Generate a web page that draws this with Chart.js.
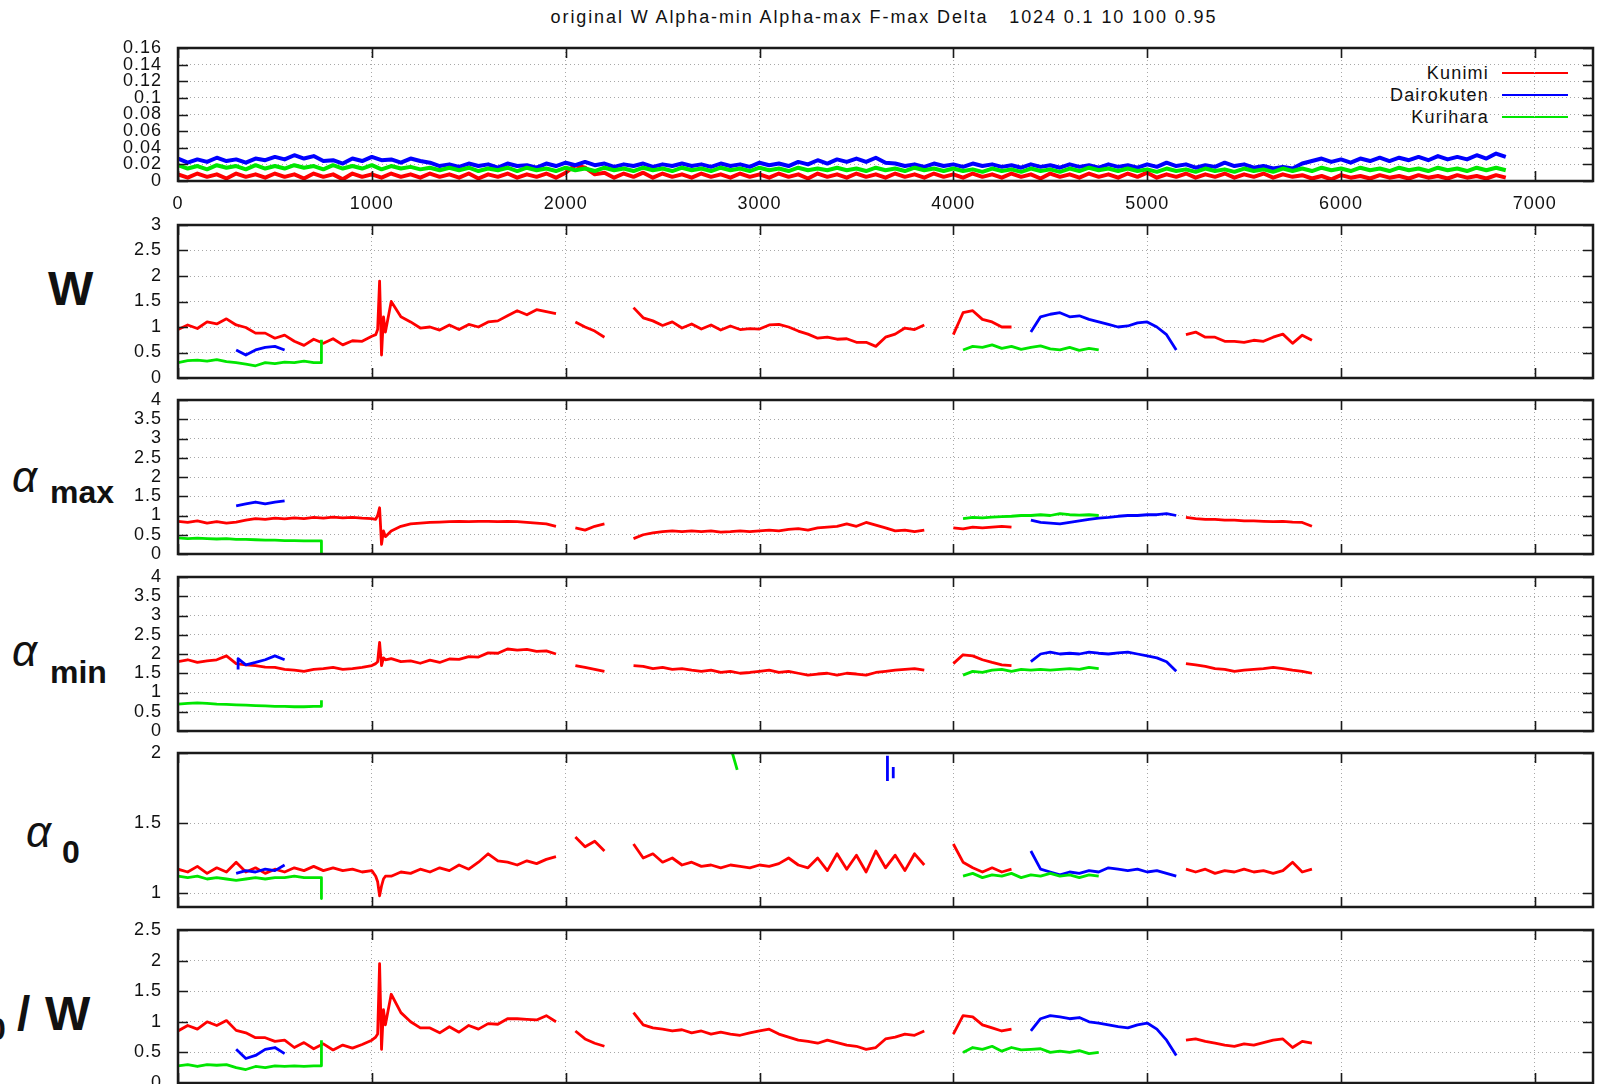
<!doctype html>
<html lang="en">
<head>
<meta charset="utf-8">
<title>W / alpha</title>
<script src="https://cdn.jsdelivr.net/npm/chart.js@4.4.1/dist/chart.umd.min.js"></script>
<style>
  body { margin: 0; background: #fff; width: 1601px; height: 1084px; overflow: hidden; position: relative;
         font-family: "Liberation Sans", Arial, sans-serif; color: #111; }
  canvas { position: absolute; left: 0; }
  .title { position: absolute; left: 0; top: 8px; width: 1768px; text-align: center; white-space: pre;
           font-size: 18px; line-height: 18px; letter-spacing: 1.9px; }
  .legend { position: absolute; left: 1300px; width: 268px; height: 20px; display: flex;
            justify-content: flex-end; align-items: center; font-size: 18px; letter-spacing: 1.2px; }
  .legend i { display: inline-block; width: 66px; height: 2px; margin-left: 13px; }
  .g { position: absolute; font-style: italic; font-size: 44px; line-height: 44px; }
  .s { position: absolute; font-weight: bold; font-size: 32px; line-height: 32px; }
  .b { position: absolute; font-weight: bold; font-size: 48px; line-height: 48px; }
</style>
</head>
<body>
<div class="title">original W Alpha-min Alpha-max F-max Delta   1024 0.1 10 100 0.95</div>

<span class="b" style="left:48px; top:265px">W</span>
<span class="g" style="left:12px; top:455px">α</span><span class="s" style="left:50px; top:476px">max</span>
<span class="g" style="left:12px; top:629px">α</span><span class="s" style="left:50px; top:656px">min</span>
<span class="g" style="left:26px; top:810px">α</span><span class="s" style="left:62px; top:836px">0</span>
<span class="g" style="left:-50px; top:994px">α</span><span class="s" style="left:-12px; top:1013px">0</span>
<span class="b" style="left:17px; top:990px">/</span><span class="b" style="left:45px; top:990px">W</span>

<div id="legend"></div>

<script>
// every series is a list of segments [startX, values, dx]; null breaks the line
const STEP = 50;
const X_MAX = 7300;
const seriesNames = ['Kunimi', 'Dairokuten', 'Kurihara'];
const seriesColors = ['#ff0000', '#0000ff', '#00e600'];

const xTicks = [0, 1000, 2000, 3000, 4000, 5000, 6000, 7000];
const topTicks = [0, 0.02, 0.04, 0.06, 0.08, 0.1, 0.12, 0.14, 0.16];
const wTicks = [0, 0.5, 1, 1.5, 2, 2.5, 3];
const alphaTicks = [0, 0.5, 1, 1.5, 2, 2.5, 3, 3.5, 4];
const a0Ticks = [1, 1.5, 2];
const ratioTicks = [0, 0.5, 1, 1.5, 2, 2.5];

// original (0 .. 6850)
const topKunimi = [[0, [
  0.008,0.004,0.009,0.005,0.008,0.003,0.009,0.005,0.008,0.004,0.009,0.005,0.008,0.003,
  0.009,0.005,0.008,0.002,0.009,0.005,0.008,0.004,0.009,0.005,0.008,0.004,0.009,0.005,
  0.008,0.004,0.009,0.003,0.008,0.005,0.009,0.004,0.008,0.005,0.009,0.004,0.010,0.019,
  0.016,0.008,0.010,0.004,0.009,0.005,0.010,0.004,0.009,0.005,0.008,0.004,0.009,0.005,
  0.008,0.004,0.009,0.005,0.008,0.004,0.009,0.005,0.008,0.003,0.009,0.005,0.008,0.004,
  0.009,0.005,0.008,0.004,0.009,0.005,0.008,0.004,0.009,0.005,0.008,0.004,0.009,0.005,
  0.008,0.004,0.009,0.005,0.008,0.003,0.009,0.005,0.008,0.004,0.009,0.005,0.008,0.004,
  0.009,0.005,0.010,0.004,0.008,0.005,0.009,0.004,0.008,0.005,0.009,0.004,0.008,0.005,
  0.009,0.004,0.008,0.005,0.007,0.003,0.006,0.002,0.007,0.004,0.006,0.003,0.007,0.004,
  0.006,0.003,0.007,0.004,0.006,0.003,0.007,0.004,0.006,0.003,0.007,0.004]]];
const topDairokuten = [[0, [
  0.027,0.022,0.026,0.023,0.028,0.024,0.026,0.022,0.027,0.025,0.029,0.026,0.031,0.027,
  0.030,0.024,0.025,0.021,0.027,0.024,0.029,0.025,0.026,0.022,0.027,0.024,0.022,0.018,
  0.020,0.017,0.021,0.018,0.020,0.016,0.021,0.018,0.019,0.016,0.021,0.018,0.022,0.019,
  0.023,0.019,0.021,0.017,0.020,0.018,0.021,0.017,0.020,0.018,0.021,0.018,0.020,0.017,
  0.021,0.018,0.020,0.017,0.022,0.019,0.021,0.018,0.023,0.020,0.025,0.021,0.026,0.023,
  0.027,0.023,0.028,0.022,0.021,0.018,0.020,0.017,0.021,0.018,0.020,0.017,0.021,0.018,
  0.020,0.017,0.019,0.016,0.020,0.017,0.019,0.016,0.020,0.017,0.019,0.016,0.020,0.017,
  0.019,0.016,0.020,0.017,0.022,0.018,0.020,0.016,0.019,0.017,0.022,0.018,0.020,0.016,
  0.018,0.015,0.017,0.015,0.021,0.024,0.027,0.023,0.026,0.022,0.027,0.024,0.028,0.024,
  0.028,0.025,0.029,0.025,0.030,0.026,0.029,0.026,0.031,0.027,0.033,0.029]]];
const topKurihara = [[0, [
  0.019,0.015,0.018,0.014,0.019,0.016,0.018,0.014,0.019,0.015,0.018,0.015,0.019,0.016,
  0.018,0.014,0.019,0.015,0.018,0.015,0.019,0.014,0.018,0.015,0.017,0.014,0.016,0.013,
  0.016,0.013,0.016,0.012,0.015,0.013,0.016,0.012,0.016,0.013,0.015,0.012,0.016,0.013,
  0.015,0.012,0.016,0.013,0.015,0.012,0.016,0.013,0.015,0.012,0.016,0.013,0.015,0.012,
  0.016,0.013,0.015,0.012,0.016,0.013,0.015,0.012,0.016,0.013,0.015,0.013,0.016,0.013,
  0.015,0.012,0.016,0.013,0.015,0.012,0.016,0.013,0.015,0.012,0.015,0.012,0.014,0.011,
  0.015,0.012,0.014,0.011,0.015,0.012,0.014,0.011,0.015,0.012,0.016,0.013,0.015,0.012,
  0.015,0.012,0.014,0.011,0.015,0.012,0.014,0.011,0.015,0.012,0.014,0.011,0.015,0.012,
  0.014,0.011,0.015,0.012,0.015,0.012,0.016,0.013,0.015,0.012,0.016,0.013,0.015,0.012,
  0.016,0.013,0.015,0.012,0.016,0.013,0.015,0.012,0.016,0.013,0.016,0.013]]];

// W
const wKunimi = [
  [0, [0.95,1.04,0.97,1.1,1.06,1.16,1.04,0.99,0.88,0.88,0.78,0.84,0.72,0.64,0.76,0.68,0.77,0.65,0.73,0.72,0.82]],
  [1020, [0.85,0.95,1.9,0.45,1.2,0.9], 10],
  [1100, [1.5,1.2,1.1,0.98,1.0,0.94,1.04,0.95,1.05,1.0,1.1,1.12,1.22,1.32,1.24,1.34,1.3,1.26]],
  null, [2050, [1.1,1.0,0.92,0.8]], null,
  [2350, [1.38,1.18,1.12,1.03,1.1,0.98,1.06,0.96,1.04,0.94,1.02,0.95,0.97,0.96,1.04,1.05,1.0,0.92]],
  [3250, [0.86,0.78,0.8,0.76,0.77,0.7,0.7,0.62,0.8,0.86,0.98,0.95,1.04]],
  null, [4000, [0.85,1.28,1.32,1.15,1.1,1.0,1.0]], null,
  [5200, [0.85,0.9,0.8,0.8,0.72,0.72,0.7,0.74,0.72,0.8,0.86,0.68,0.84,0.74]]
];
const wDairokuten = [
  [300, [0.55,0.45,0.55,0.6,0.62,0.55]], null,
  [4400, [0.9,1.2,1.25,1.28,1.2,1.22,1.15,1.1,1.05,1.0,1.02,1.08,1.1,1.0,0.85,0.55]]
];
const wKurihara = [
  [0, [0.3,0.34,0.35,0.33,0.36,0.32,0.3,0.27,0.24,0.3,0.28,0.31,0.3,0.33,0.3]],
  [740, [0.3,0.75], 0], null,
  [4050, [0.55,0.62,0.6,0.65,0.58,0.62,0.56,0.6,0.63,0.57,0.55,0.6,0.54,0.58,0.55]]
];

// alpha max
const amaxKunimi = [
  [0, [0.85,0.82,0.86,0.8,0.84,0.8,0.83,0.88,0.92,0.9,0.93,0.91,0.94,0.92,0.95,0.93,0.96,0.94,0.95,0.93,0.92]],
  [1020, [0.9,1.0,1.2,0.25,0.6,0.45], 10],
  [1100, [0.6,0.72,0.78,0.8,0.82,0.83,0.84,0.85,0.84,0.85,0.85,0.84,0.85,0.84,0.82,0.8,0.78,0.72]],
  null, [2050, [0.68,0.62,0.72,0.78]], null,
  [2350, [0.4,0.5,0.55,0.58,0.6,0.58,0.6,0.58,0.6,0.57,0.58,0.6,0.58,0.6,0.62,0.6,0.64,0.66]],
  [3250, [0.62,0.68,0.7,0.72,0.78,0.72,0.82,0.75,0.68,0.6,0.62,0.58,0.62]],
  null, [4000, [0.68,0.65,0.7,0.68,0.7,0.72,0.7]], null,
  [5200, [0.95,0.92,0.9,0.9,0.88,0.88,0.86,0.86,0.85,0.84,0.85,0.83,0.82,0.72]]
];
const amaxDairokuten = [
  [300, [1.25,1.3,1.35,1.3,1.35,1.38]], null,
  [4400, [0.88,0.82,0.8,0.78,0.82,0.86,0.9,0.93,0.95,0.98,1.0,1.0,1.02,1.02,1.05,1.0]]
];
const amaxKurihara = [
  [0, [0.42,0.4,0.41,0.4,0.39,0.4,0.38,0.38,0.37,0.36,0.36,0.35,0.35,0.34,0.34]],
  [740, [0.34,0.0], 0], null,
  [4050, [0.92,0.95,0.94,0.96,0.97,0.98,1.0,1.0,1.02,1.0,1.05,1.02,1.01,1.02,1.0]]
];

// alpha min
const aminKunimi = [
  [0, [1.8,1.85,1.78,1.82,1.85,1.95,1.75,1.72,1.7,1.66,1.65,1.6,1.58,1.55,1.6,1.62,1.65,1.6,1.62,1.65,1.7]],
  [1020, [1.75,1.8,2.3,1.7,1.9,1.85], 10],
  [1100, [1.88,1.8,1.82,1.76,1.84,1.78,1.87,1.86,1.93,1.92,2.03,2.02,2.13,2.1,2.12,2.07,2.08,2.0]],
  null, [2050, [1.7,1.65,1.6,1.55]], null,
  [2350, [1.7,1.68,1.62,1.65,1.6,1.62,1.58,1.55,1.58,1.52,1.55,1.5,1.52,1.55,1.58,1.52,1.55,1.5]],
  [3250, [1.45,1.48,1.5,1.45,1.5,1.48,1.45,1.52,1.55,1.58,1.6,1.62,1.58]],
  null, [4000, [1.75,1.98,1.95,1.85,1.78,1.72,1.7]], null,
  [5200, [1.75,1.72,1.68,1.62,1.6,1.55,1.58,1.6,1.62,1.65,1.62,1.58,1.55,1.5]]
];
const aminDairokuten = [
  [310, [1.6,1.88], 0],
  [350, [1.72,1.78,1.85,1.95,1.85]], null,
  [4400, [1.8,2.0,2.05,2.0,2.02,2.0,2.05,2.02,2.0,2.03,2.05,2.0,1.95,1.9,1.8,1.55]]
];
const aminKurihara = [
  [0, [0.7,0.72,0.73,0.72,0.7,0.69,0.68,0.67,0.66,0.65,0.64,0.64,0.63,0.63,0.64]],
  [740, [0.64,0.8], 0], null,
  [4050, [1.45,1.55,1.52,1.58,1.6,1.55,1.6,1.58,1.6,1.58,1.6,1.62,1.6,1.65,1.62]]
];

// alpha 0
const a0Kunimi = [
  [0, [1.17,1.15,1.19,1.14,1.18,1.15,1.22,1.15,1.18,1.14,1.17,1.15,1.18,1.16,1.19,1.16,1.18,1.16,1.17,1.15,1.16]],
  [1020, [1.12,1.08,0.98,1.05,1.1,1.12], 10],
  [1100, [1.12,1.15,1.14,1.17,1.15,1.18,1.16,1.2,1.17,1.22,1.28,1.23,1.22,1.2,1.23,1.21,1.24,1.26]],
  null, [2050, [1.4,1.33,1.37,1.3]], null,
  [2350, [1.35,1.25,1.28,1.22,1.25,1.2,1.22,1.19,1.2,1.18,1.2,1.19,1.18,1.2,1.19,1.21,1.25,1.2]],
  [3250, [1.18,1.25,1.16,1.28,1.17,1.27,1.15,1.3,1.18,1.27,1.16,1.28,1.2]],
  null, [4000, [1.35,1.22,1.18,1.15,1.18,1.15,1.17]], null,
  [5200, [1.17,1.15,1.17,1.14,1.16,1.15,1.17,1.15,1.16,1.14,1.16,1.22,1.15,1.17]]
];
const a0Dairokuten = [
  [300, [1.14,1.16,1.15,1.17,1.16,1.2]], null,
  [3660, [1.8,1.98], 0], null,
  [3690, [1.82,1.9], 0], null,
  [4400, [1.3,1.17,1.15,1.13,1.15,1.14,1.16,1.15,1.18,1.17,1.16,1.17,1.15,1.16,1.14,1.12]]
];
const a0Kurihara = [
  [0, [1.12,1.11,1.12,1.1,1.11,1.1,1.09,1.1,1.11,1.1,1.11,1.11,1.12,1.11,1.11]],
  [740, [1.11,0.96], 0], null,
  [2860, [2.0,1.88], 25], null,
  [4050, [1.12,1.14,1.11,1.13,1.12,1.14,1.11,1.13,1.12,1.14,1.12,1.13,1.11,1.13,1.12]]
];

// alpha 0 / W
const ratioKunimi = [
  [0, [0.85,0.94,0.88,1.0,0.94,1.02,0.86,0.82,0.74,0.74,0.68,0.7,0.58,0.66,0.56,0.64,0.54,0.62,0.57,0.63,0.7]],
  [1020, [0.75,0.8,1.95,0.55,1.2,0.95], 10],
  [1100, [1.45,1.15,1.0,0.9,0.9,0.82,0.92,0.83,0.94,0.88,0.97,0.96,1.05,1.05,1.04,1.03,1.1,1.0]],
  null, [2050, [0.85,0.72,0.65,0.6]], null,
  [2350, [1.15,0.95,0.9,0.88,0.85,0.87,0.82,0.85,0.8,0.83,0.8,0.78,0.82,0.85,0.88,0.8,0.75,0.7]],
  [3250, [0.68,0.65,0.7,0.66,0.62,0.6,0.55,0.58,0.72,0.75,0.8,0.78,0.85]],
  null, [4000, [0.8,1.1,1.08,0.95,0.9,0.85,0.88]], null,
  [5200, [0.7,0.72,0.68,0.65,0.62,0.6,0.64,0.62,0.66,0.7,0.72,0.58,0.68,0.65]]
];
const ratioDairokuten = [
  [300, [0.55,0.4,0.45,0.55,0.58,0.48]], null,
  [4400, [0.85,1.05,1.1,1.08,1.05,1.07,1.0,0.98,0.95,0.92,0.9,0.95,0.98,0.88,0.7,0.45]]
];
const ratioKurihara = [
  [0, [0.28,0.3,0.27,0.3,0.29,0.3,0.25,0.22,0.27,0.25,0.28,0.27,0.28,0.27,0.28]],
  [740, [0.28,0.7], 0], null,
  [4050, [0.5,0.58,0.55,0.6,0.52,0.58,0.54,0.55,0.56,0.5,0.52,0.5,0.53,0.48,0.5]]
];

const panels = [
  { top: 48,  bottom: 181,  min: 0,   max: 0.16, ticks: topTicks,   series: [topKunimi, topDairokuten, topKurihara], xLabels: true, lw: 4 },
  { top: 225, bottom: 378,  min: 0,   max: 3,    ticks: wTicks,     series: [wKunimi, wDairokuten, wKurihara] },
  { top: 400, bottom: 554,  min: 0,   max: 4,    ticks: alphaTicks, series: [amaxKunimi, amaxDairokuten, amaxKurihara] },
  { top: 577, bottom: 731,  min: 0,   max: 4,    ticks: alphaTicks, series: [aminKunimi, aminDairokuten, aminKurihara] },
  { top: 753, bottom: 907,  min: 0.9, max: 2,    ticks: a0Ticks,    series: [a0Kunimi, a0Dairokuten, a0Kurihara] },
  { top: 930, bottom: 1083, min: 0,   max: 2.5,  ticks: ratioTicks, series: [ratioKunimi, ratioDairokuten, ratioKurihara] }
];

function toPoints(series) {
  const pts = [];
  series.forEach(seg => {
    if (seg === null) {
      pts.push({ x: pts.length ? pts[pts.length - 1].x : 0, y: null });
      return;
    }
    const [x0, vals, dx = STEP] = seg;
    vals.forEach((v, i) => pts.push({ x: x0 + i * dx, y: v }));
  });
  return pts;
}

// gnuplot style box with inward tics
const framePlugin = {
  id: 'frame',
  beforeDraw(chart) { chart.ctx.letterSpacing = '1px'; },
  afterDraw(chart) {
    const { ctx, chartArea: a, scales: { x, y } } = chart;
    ctx.save();
    ctx.strokeStyle = '#1a1a1a';
    ctx.lineWidth = 1.6;
    ctx.beginPath();
    y.ticks.forEach(t => {
      const py = Math.round(y.getPixelForValue(t.value)) + 0.5;
      ctx.moveTo(a.left, py); ctx.lineTo(a.left + 10, py);
      ctx.moveTo(a.right, py); ctx.lineTo(a.right - 10, py);
    });
    x.ticks.forEach(t => {
      const px = Math.round(x.getPixelForValue(t.value)) + 0.5;
      ctx.moveTo(px, a.top); ctx.lineTo(px, a.top + 10);
      ctx.moveTo(px, a.bottom); ctx.lineTo(px, a.bottom - 10);
    });
    ctx.stroke();
    ctx.lineWidth = 2.5;
    ctx.strokeRect(a.left, a.top, a.right - a.left, a.bottom - a.top);
    ctx.restore();
  }
};

const tickFont = { family: '"Liberation Sans", Arial, sans-serif', size: 18 };
const gridOpts = { color: '#a8a8a8', lineWidth: 1, drawTicks: false };
const borderOpts = { display: false, dash: [1, 3] };

panels.forEach(p => {
  const padTop = 14, padBottom = 6, xHeight = p.xLabels ? 34 : 0;
  const canvas = document.createElement('canvas');
  canvas.width = 1601;
  canvas.height = (p.bottom - p.top) + padTop + padBottom + xHeight;
  canvas.style.top = (p.top - padTop) + 'px';
  document.body.appendChild(canvas);

  new Chart(canvas, {
    type: 'line',
    data: {
      datasets: p.series.map((s, i) => ({
        label: seriesNames[i],
        data: toPoints(s),
        borderColor: seriesColors[i],
        borderWidth: p.lw || 2.8,
        borderJoinStyle: 'round',
        pointRadius: 0,
        tension: 0,
        spanGaps: false,
        order: 2 - i
      }))
    },
    options: {
      responsive: false,
      animation: false,
      devicePixelRatio: 1,
      layout: { padding: { left: 0, right: 8, top: padTop, bottom: padBottom } },
      plugins: { legend: { display: false }, tooltip: { enabled: false } },
      scales: {
        x: {
          type: 'linear', min: 0, max: X_MAX,
          afterBuildTicks: s => { s.ticks = xTicks.map(v => ({ value: v })); },
          afterFit: s => { s.height = xHeight; s.paddingLeft = 0; s.paddingRight = 0; },
          ticks: { display: !!p.xLabels, autoSkip: false, maxRotation: 0, padding: 12,
                   color: '#111', font: tickFont, callback: v => String(v) },
          grid: gridOpts, border: borderOpts
        },
        y: {
          min: p.min, max: p.max,
          afterBuildTicks: s => { s.ticks = p.ticks.map(v => ({ value: v })); },
          afterFit: s => { s.width = 178; s.paddingTop = 0; s.paddingBottom = 0; },
          ticks: { autoSkip: false, padding: 16, color: '#111', font: tickFont, callback: v => String(v) },
          grid: gridOpts, border: borderOpts
        }
      }
    },
    plugins: [framePlugin]
  });
});

// key inside the top panel
const legend = document.getElementById('legend');
seriesNames.forEach((name, i) => {
  const row = document.createElement('div');
  row.className = 'legend';
  row.style.top = (63 + i * 22) + 'px';
  row.innerHTML = '<span>' + name + '</span><i style="background:' + seriesColors[i] + '"></i>';
  legend.appendChild(row);
});
</script>
</body>
</html>
